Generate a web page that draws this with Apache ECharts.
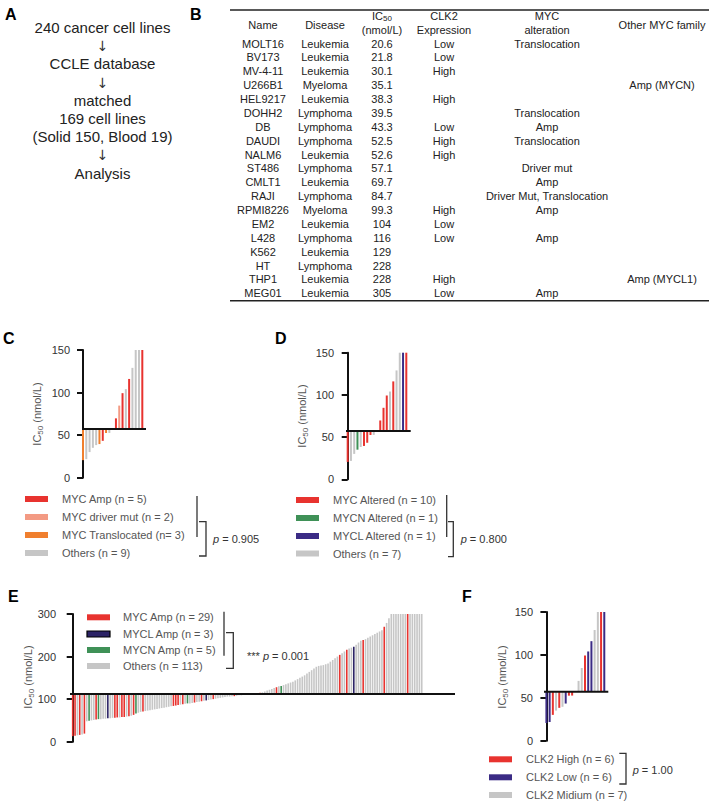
<!DOCTYPE html>
<html><head><meta charset="utf-8">
<script src="https://cdn.jsdelivr.net/npm/echarts@6/dist/echarts.min.js"></script>
<style>html,body{margin:0;padding:0;background:#fff}#c{width:709px;height:802px}</style>
</head><body><div id="c"></div>
<script>
// ---------- Panel A ----------
const flowSteps = ['240 cancer cell lines','\u2193','CCLE database','\u2193','matched','169 cell lines','(Solid 150, Blood 19)','\u2193','Analysis'];

// ---------- Panel B table ----------
const names = ['MOLT16','BV173','MV-4-11','U266B1','HEL9217','DOHH2','DB','DAUDI','NALM6','ST486','CMLT1','RAJI','RPMI8226','EM2','L428','K562','HT','THP1','MEG01'];
const diseases = ['Leukemia','Leukemia','Leukemia','Myeloma','Leukemia','Lymphoma','Lymphoma','Lymphoma','Leukemia','Lymphoma','Leukemia','Lymphoma','Myeloma','Leukemia','Lymphoma','Leukemia','Lymphoma','Leukemia','Leukemia'];
const ic50 = [20.6,21.8,30.1,35.1,38.3,39.5,43.3,52.5,52.6,57.1,69.7,84.7,99.3,104,116,129,228,228,305];
const clk2 = ['Low','Low','High','','High','','Low','High','High','','','','High','Low','Low','','','High','Low'];
const mycAlt = ['Translocation','','','','','Translocation','Amp','Translocation','','Driver mut','Amp','Driver Mut, Translocation','Amp','','Amp','','','','Amp'];
const otherMyc = ['','','','Amp (MYCN)','','','','','','','','','','','','','','Amp (MYCL1)',''];
const baseline19 = 57.1; // median IC50 of the 19 lines

// ---------- Legends ----------
const cLegend = ['MYC Amp (n = 5)','MYC driver mut (n = 2)','MYC Translocated (n= 3)','Others (n = 9)'];
const dLegend = ['MYC Altered (n = 10)','MYCN Altered (n = 1)','MYCL Altered (n = 1)','Others (n = 7)'];
const eLegend = ['MYC Amp (n = 29)','MYCL Amp (n = 3)','MYCN Amp (n = 5)','Others (n = 113)'];
const fLegend = ['CLK2 High (n = 6)','CLK2 Low (n = 6)','CLK2 Midium (n = 7)'];
const pC = ' = 0.905', pD = ' = 0.800', pE = ' = 0.001', pF = ' = 1.00';

// ---------- Panel E (150 CCLE lines, sorted) ----------
const eValues = [
13,14,15,16,17,19,48,49,50,51,
52,53,53,54,54,55,55,56,56,57,
57,58,58,59,60,61,63,66,68,70,
71,72,73,74,75,76,77,78,79,80,
81,82,83,84,85,86,87,88,89,90,
90,91,92,93,94,95,96,97,98,99,
100,101,102,103,104,105,106,106,107,107,
108,109,109,110,110,111,111,111,112,113,
115,116,118,120,122,124,126,128,130,131,
133,135,137,139,141,144,147,150,153,156,
160,164,168,172,176,178,179,180,182,184,
188,192,196,200,204,208,212,216,219,221,
223,228,233,237,239,241,244,247,250,253,
256,259,262,270,279,290,300,300,300,300,
300,300,300,300,300,300,300,300,300,300];
// 0 = MYC Amp, 1 = MYCL Amp, 2 = MYCN Amp, 3 = Others
const eGroup = [
0,0,3,0,3,0,3,2,3,3,
0,2,3,3,3,1,3,3,0,0,
3,0,0,3,0,3,0,2,3,3,
0,3,3,3,3,3,3,3,3,3,
3,3,3,0,0,0,3,0,3,2,
3,3,0,3,3,0,3,1,3,3,
0,3,3,3,3,3,3,3,3,0,
3,3,3,3,3,0,3,3,3,0,
0,3,3,3,3,3,3,0,3,2,
3,3,3,3,3,3,3,3,3,3,
3,3,3,3,3,3,3,3,3,3,
3,3,3,3,0,3,3,0,3,3,
1,3,3,3,0,3,3,3,3,3,
3,3,3,0,3,3,3,3,3,3,
3,3,3,0,3,3,3,3,3,3];
const eBaseline = 112;

// ---------- styling ----------
const FF = "'Liberation Sans', Arial, Helvetica, sans-serif";
const RED='#e8332f', SALMON='#f39a83', ORANGE='#f07f2e', GRAY='#c6c6c6', GREEN='#3f9157', PURPLE='#3b2b85', NAVY='#2c2366';
const cPal=[RED,SALMON,ORANGE,GRAY], dPal=[RED,GREEN,PURPLE,GRAY], ePal=[RED,NAVY,GREEN,GRAY], fPal=[RED,PURPLE,GRAY];

const cGroup = mycAlt.map(m => m==='Amp'?0 : m.indexOf('Driver')===0?1 : m==='Translocation'?2 : 3);
const dGroup = names.map((n,i) => mycAlt[i] ? 0 : otherMyc[i].indexOf('MYCN')>=0 ? 1 : otherMyc[i].indexOf('MYCL')>=0 ? 2 : 3);
const fGroup = clk2.map(c => c==='High'?0 : c==='Low'?1 : 2);

function renderer(pal, w, base, ymax){
  return function(params, api){
    const i=api.value(0), v=api.value(1), g=api.value(2);
    const p1=api.coord([i, Math.min(v,ymax)]), p0=api.coord([i, base]);
    return {type:'rect', shape:{x:p1[0]-w/2, y:Math.min(p0[1],p1[1]), width:w, height:Math.abs(p0[1]-p1[1])}, style:{fill:pal[g]}};
  };
}
const panels = [
  {vals:ic50, grp:cGroup, pal:cPal, base:baseline19, ymax:150, itv:50, grid:{left:82,top:350,width:64,height:127.7}, xmin:-0.3, xmax:19.12, bw:2, margin:12, nameXY:[37,414]},
  {vals:ic50, grp:dGroup, pal:dPal, base:baseline19, ymax:150, itv:50, grid:{left:346,top:352.7,width:64.7,height:126.6}, xmin:-0.52, xmax:19.35, bw:2, margin:12, nameXY:[302,416]},
  {vals:eValues, grp:eGroup, pal:ePal, base:eBaseline, ymax:300, itv:100, grid:{left:70,top:614,width:385,height:127.7}, xmin:-1.15, xmax:163.2, bw:1.6, margin:14, nameXY:[28,677]},
  {vals:ic50, grp:fGroup, pal:fPal, base:baseline19, ymax:150, itv:50, grid:{left:544,top:612,width:64.3,height:128.7}, xmin:-0.75, xmax:19.25, bw:2, margin:11, nameXY:[502,677]}
];
const grids=[], xAxes=[], yAxes=[], series=[];
panels.forEach((p,k)=>{
  grids.push(p.grid);
  xAxes.push({gridIndex:k, type:'value', min:p.xmin, max:p.xmax, show:false});
  yAxes.push({gridIndex:k, type:'value', min:0, max:p.ymax, interval:p.itv,
    axisLine:{show:true, lineStyle:{color:'#111', width:2}},
    axisTick:{show:true, length:6, lineStyle:{color:'#111', width:2}},
    axisLabel:{fontSize:11, color:'#333', fontFamily:FF, margin:p.margin},
    splitLine:{show:false}});
  series.push({type:'custom', xAxisIndex:k, yAxisIndex:k, renderItem:renderer(p.pal,p.bw,p.base,p.ymax),
    encode:{x:0,y:1}, data:p.vals.map((v,i)=>[i,v,p.grp[i]]), z:2, silent:true});
  series.push({type:'line', xAxisIndex:k, yAxisIndex:k, data:[[p.xmin,p.base],[p.xmax,p.base]], symbol:'none',
    lineStyle:{color:'#111', width:2}, z:5, silent:true});
});

// ---------- graphic ----------
const G=[];
function T(x,y,text,o,rot){ G.push({type:'text', x:x, y:y, rotation:rot||0, silent:true, style:Object.assign({text:text, font:'11px '+FF, fill:'#222', align:'center', verticalAlign:'middle'}, o||{})}); }
function L(x1,y1,x2,y2,w,c){ G.push({type:'line', silent:true, shape:{x1,y1,x2,y2}, style:{stroke:c||'#333', lineWidth:w||1.3}}); }
function P(pts,w){ G.push({type:'polyline', silent:true, shape:{points:pts}, style:{stroke:'#333', lineWidth:w||1.3, fill:null}}); }
function R(x,y,w,h,fill,stroke){ G.push({type:'rect', silent:true, shape:{x,y,width:w,height:h}, style:{fill:fill, stroke:stroke||null, lineWidth:stroke?1.2:0}}); }
const bold = 'bold 16px '+FF;
[['A',5,6],['B',190,6],['C',3,330],['D',275,330],['E',8,588],['F',462,588]].forEach(a=>T(a[1],a[2],a[0],{font:bold,fill:'#000',align:'left',verticalAlign:'top'}));

// y-axis titles
const subRich = {a:{fontSize:11,fontFamily:FF,fill:'#555',lineHeight:14}, s:{fontSize:8,fontFamily:FF,fill:'#555',lineHeight:14,verticalAlign:'bottom'}};
panels.forEach(p=>T(p.nameXY[0], p.nameXY[1], '{a|IC}{s|50}{a| (nmol/L)}', {rich:subRich}, Math.PI/2));

// Panel A
const flowY=[27.3,46,63.3,82.5,100,118.3,136.7,154.5,173.3];
flowSteps.forEach((s,i)=>T(102.5, flowY[i], s, s==='\u2193' ? {font:'14px "DejaVu Sans"', fill:'#333'} : {font:'15px '+FF, fill:'#222'}));

// Panel B
L(230,10,709,10,1.5,'#222'); L(230,300.7,709,300.7,1.5,'#222');
const colX=[263,325,382,444,547,662];
T(colX[0],25,'Name'); T(colX[1],25,'Disease');
T(colX[2],16,'{a|IC}{s|50}',{rich:{a:{fontSize:11,fontFamily:FF,fill:'#222',lineHeight:13},s:{fontSize:8,fontFamily:FF,fill:'#222',lineHeight:13,verticalAlign:'bottom'}}});
T(colX[2],30,'(nmol/L)');
T(colX[3],16,'CLK2'); T(colX[3],30,'Expression');
T(colX[4],16,'MYC'); T(colX[4],30,'alteration');
T(colX[5],25,'Other MYC family');
names.forEach((n,i)=>{
  const y=43.5+i*13.88;
  T(colX[0],y,n); T(colX[1],y,diseases[i]); T(colX[2],y,String(ic50[i]));
  if(clk2[i]) T(colX[3],y,clk2[i]);
  if(mycAlt[i]) T(colX[4],y,mycAlt[i]);
  if(otherMyc[i]) T(colX[5],y,otherMyc[i]);
});

// legends
function legend(labels, pal, sx, sw, tx, ys, strokes){
  labels.forEach((lab,i)=>{
    R(sx, ys[i]-3, sw, 6, pal[i], strokes && strokes[i] ? strokes[i] : null);
    T(tx, ys[i], lab, {align:'left', fill:'#555', font:'11px '+FF});
  });
}
function pText(x,y,rest,stars){
  T(x,y,(stars?'{n|*** }':'')+'{i|p}{n|'+rest+'}',{align:'left',rich:{i:{fontStyle:'italic',fontSize:11,fontFamily:FF,fill:'#333'},n:{fontSize:11,fontFamily:FF,fill:'#333'}}});
}
legend(cLegend, [RED,SALMON,ORANGE,GRAY], 25, 23, 62, [499,517,535,553]);
L(197,496,197,537); P([[199,521.7],[206,521.7],[206,556],[199,556]]); pText(213,538.5,pC);
legend(dLegend, [RED,GREEN,PURPLE,GRAY], 296, 23, 333, [500,518,536,553.5]);
L(446.7,495,446.7,537); P([[448,521.7],[453.3,521.7],[453.3,556.7],[448,556.7]]); pText(460.7,538.5,pD);
legend(eLegend, [RED,NAVY,GREEN,GRAY], 87, 23, 123, [617.3,634,650,666], [null,'#000',null,null]);
L(224,611.7,224,655.7); P([[226,632.7],[233.3,632.7],[233.3,668.3],[226,668.3]]); pText(247,656,pE,true);
legend(fLegend, [RED,PURPLE,GRAY], 489, 23, 526, [759.3,777.3,795]);
P([[619.3,753.3],[626,753.3],[626,784],[619.3,784]]); pText(632.7,770,pF);

const chart = echarts.init(document.getElementById('c'), null, {renderer:'svg'});
chart.setOption({animation:false, grid:grids, xAxis:xAxes, yAxis:yAxes, series:series, graphic:{elements:G}});
</script></body></html>
